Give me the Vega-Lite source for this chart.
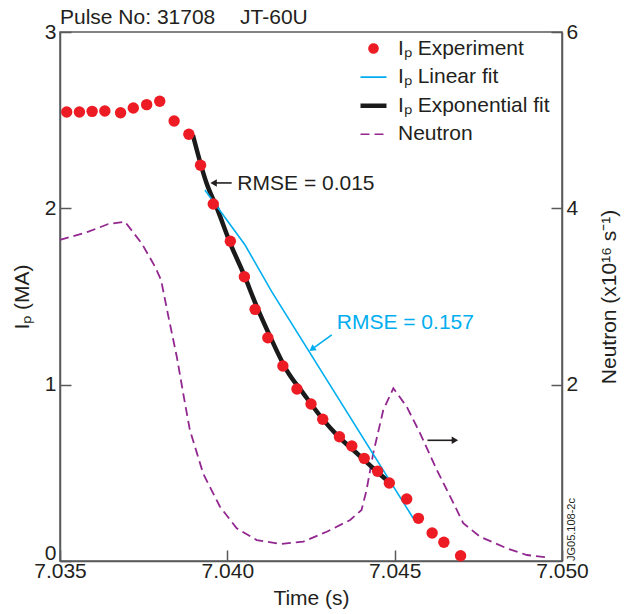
{
  "$schema": "https://vega.github.io/schema/vega-lite/v6.json",
  "width": 502,
  "height": 529,
  "autosize": {"type": "none"},
  "padding": {"left": 60, "top": 32, "right": 65, "bottom": 53},
  "background": "white",
  "config": {
    "font": "Liberation Sans",
    "view": {"stroke": "#58595b", "strokeWidth": 1.5},
    "axis": {
      "domainColor": "#58595b", "domainWidth": 1.5,
      "tickColor": "#58595b", "tickWidth": 1.5, "tickSize": -11,
      "labelFont": "Liberation Sans", "labelFontSize": 21, "labelColor": "#231f20",
      "titleFont": "Liberation Sans", "titleFontSize": 21, "titleFontWeight": "normal", "titleColor": "#231f20",
      "grid": false, "labelFlush": false, "labelOverlap": false, "labelPadding": 15
    },
    "legend": {
      "labelFont": "Liberation Sans", "labelFontSize": 21, "labelColor": "#231f20"
    }
  },
  "datasets": {
    "curves": [
      {"series": "Iₚ Experiment", "t": 7.0352, "v": 2.546},
      {"series": "Iₚ Experiment", "t": 7.03558, "v": 2.546},
      {"series": "Iₚ Experiment", "t": 7.03596, "v": 2.550},
      {"series": "Iₚ Experiment", "t": 7.03634, "v": 2.552},
      {"series": "Iₚ Experiment", "t": 7.03681, "v": 2.542},
      {"series": "Iₚ Experiment", "t": 7.03719, "v": 2.569},
      {"series": "Iₚ Experiment", "t": 7.03759, "v": 2.588},
      {"series": "Iₚ Experiment", "t": 7.03798, "v": 2.607},
      {"series": "Iₚ Experiment", "t": 7.03841, "v": 2.495},
      {"series": "Iₚ Experiment", "t": 7.03885, "v": 2.420},
      {"series": "Iₚ Experiment", "t": 7.0392, "v": 2.244},
      {"series": "Iₚ Experiment", "t": 7.03958, "v": 2.025},
      {"series": "Iₚ Experiment", "t": 7.04009, "v": 1.813},
      {"series": "Iₚ Experiment", "t": 7.04051, "v": 1.612},
      {"series": "Iₚ Experiment", "t": 7.04083, "v": 1.427},
      {"series": "Iₚ Experiment", "t": 7.04121, "v": 1.266},
      {"series": "Iₚ Experiment", "t": 7.04166, "v": 1.106},
      {"series": "Iₚ Experiment", "t": 7.04208, "v": 0.975},
      {"series": "Iₚ Experiment", "t": 7.0425, "v": 0.890},
      {"series": "Iₚ Experiment", "t": 7.04285, "v": 0.804},
      {"series": "Iₚ Experiment", "t": 7.04335, "v": 0.705},
      {"series": "Iₚ Experiment", "t": 7.04372, "v": 0.652},
      {"series": "Iₚ Experiment", "t": 7.04409, "v": 0.582},
      {"series": "Iₚ Experiment", "t": 7.04449, "v": 0.509},
      {"series": "Iₚ Experiment", "t": 7.04484, "v": 0.442},
      {"series": "Iₚ Experiment", "t": 7.04536, "v": 0.352},
      {"series": "Iₚ Experiment", "t": 7.04571, "v": 0.242},
      {"series": "Iₚ Experiment", "t": 7.04612, "v": 0.159},
      {"series": "Iₚ Experiment", "t": 7.04647, "v": 0.106},
      {"series": "Iₚ Experiment", "t": 7.04697, "v": 0.030},
      {"series": "Iₚ Linear fit", "t": 7.03933, "v": 2.104},
      {"series": "Iₚ Linear fit", "t": 7.04053, "v": 1.792},
      {"series": "Iₚ Linear fit", "t": 7.04133, "v": 1.526},
      {"series": "Iₚ Linear fit", "t": 7.04555, "v": 0.244},
      {"series": "Iₚ Exponential fit", "t": 7.03897, "v": 2.416},
      {"series": "Iₚ Exponential fit", "t": 7.03938, "v": 2.142},
      {"series": "Iₚ Exponential fit", "t": 7.03968, "v": 2.005},
      {"series": "Iₚ Exponential fit", "t": 7.04013, "v": 1.782},
      {"series": "Iₚ Exponential fit", "t": 7.04048, "v": 1.632},
      {"series": "Iₚ Exponential fit", "t": 7.04088, "v": 1.442},
      {"series": "Iₚ Exponential fit", "t": 7.04128, "v": 1.272},
      {"series": "Iₚ Exponential fit", "t": 7.04177, "v": 1.083},
      {"series": "Iₚ Exponential fit", "t": 7.04227, "v": 0.951},
      {"series": "Iₚ Exponential fit", "t": 7.04287, "v": 0.800},
      {"series": "Iₚ Exponential fit", "t": 7.04327, "v": 0.715},
      {"series": "Iₚ Exponential fit", "t": 7.04387, "v": 0.611},
      {"series": "Iₚ Exponential fit", "t": 7.04436, "v": 0.526},
      {"series": "Iₚ Exponential fit", "t": 7.04476, "v": 0.459}
    ],
    "neutron": [
      {"series": "Neutron", "t": 7.035, "v": 3.641},
      {"series": "Neutron", "t": 7.03585, "v": 3.735},
      {"series": "Neutron", "t": 7.03644, "v": 3.822},
      {"series": "Neutron", "t": 7.03694, "v": 3.848},
      {"series": "Neutron", "t": 7.03744, "v": 3.603},
      {"series": "Neutron", "t": 7.03784, "v": 3.338},
      {"series": "Neutron", "t": 7.03802, "v": 3.187},
      {"series": "Neutron", "t": 7.03824, "v": 2.771},
      {"series": "Neutron", "t": 7.03849, "v": 2.317},
      {"series": "Neutron", "t": 7.03868, "v": 1.905},
      {"series": "Neutron", "t": 7.03888, "v": 1.486},
      {"series": "Neutron", "t": 7.03928, "v": 0.990},
      {"series": "Neutron", "t": 7.03978, "v": 0.616},
      {"series": "Neutron", "t": 7.04028, "v": 0.371},
      {"series": "Neutron", "t": 7.04088, "v": 0.238},
      {"series": "Neutron", "t": 7.04157, "v": 0.193},
      {"series": "Neutron", "t": 7.04227, "v": 0.219},
      {"series": "Neutron", "t": 7.04297, "v": 0.332},
      {"series": "Neutron", "t": 7.04367, "v": 0.465},
      {"series": "Neutron", "t": 7.04401, "v": 0.578},
      {"series": "Neutron", "t": 7.04416, "v": 0.805},
      {"series": "Neutron", "t": 7.04436, "v": 1.222},
      {"series": "Neutron", "t": 7.04466, "v": 1.713},
      {"series": "Neutron", "t": 7.04496, "v": 1.959},
      {"series": "Neutron", "t": 7.04536, "v": 1.750},
      {"series": "Neutron", "t": 7.04576, "v": 1.448},
      {"series": "Neutron", "t": 7.04626, "v": 1.032},
      {"series": "Neutron", "t": 7.04676, "v": 0.654},
      {"series": "Neutron", "t": 7.04705, "v": 0.428},
      {"series": "Neutron", "t": 7.04755, "v": 0.276},
      {"series": "Neutron", "t": 7.04835, "v": 0.144},
      {"series": "Neutron", "t": 7.04895, "v": 0.068},
      {"series": "Neutron", "t": 7.04954, "v": 0.042}
    ],
    "notes": [
      {"label": "RMSE = 0.015", "t": 7.0403, "v": 2.138},
      {"label": "RMSE = 0.157", "t": 7.04327, "v": 1.348}
    ],
    "header": [
      {"label": "Pulse No: 31708", "t": 7.035, "v": 3},
      {"label": "JT-60U", "t": 7.04038, "v": 3}
    ],
    "stamp": [
      {"label": "JG05.108-2c", "t": 7.05, "v": 0}
    ],
    "arrows": [
      {"arrow": "exp", "t": 7.04013, "v": 2.144, "t2": 7.03959, "v2": 2.144},
      {"arrow": "lin", "t": 7.04312, "v": 1.282, "t2": 7.04253, "v2": 1.202},
      {"arrow": "neutron", "t": 7.04598, "v": 0.6845, "t2": 7.0468, "v2": 0.6845}
    ]
  },
  "layer": [
    {
      "data": {"name": "neutron"},
      "mark": {"type": "line", "strokeDash": [9, 5], "strokeWidth": 1.8},
      "encoding": {
        "x": {"field": "t", "type": "quantitative", "title": "Time (s)", "scale": {"domain": [7.035, 7.05], "nice": false, "zero": false},
              "axis": {"values": [7.035, 7.04, 7.045, 7.05], "format": ".3f", "labelPadding": 10, "titlePadding": 6}},
        "y": {"field": "v", "type": "quantitative", "scale": {"domain": [0, 6], "nice": false, "zero": false},
              "axis": {"orient": "right", "values": [2, 4, 6], "format": ".0f", "title": "Neutron (x10¹⁶ s⁻¹)", "titleAngle": 270, "titleBaseline": "top", "titlePadding": 21}},
        "color": {"field": "series", "type": "nominal",
          "scale": {"domain": ["Iₚ Experiment", "Iₚ Linear fit", "Iₚ Exponential fit", "Neutron"], "range": ["#ed1c24", "#00aeef", "#1a1a1a", "#92278f"]},
          "legend": {
            "orient": "none", "legendX": 303, "legendY": 6, "title": null,
            "symbolType": "stroke", "symbolSize": 676, "labelOffset": 14, "rowPadding": 6.6, "padding": 0,
            "encode": {"symbols": {"update": {
              "shape": {"signal": "datum.value === 'Iₚ Experiment' ? 'circle' : 'stroke'"},
              "size": {"signal": "datum.value === 'Iₚ Experiment' ? 80 : 676"},
              "fill": {"signal": "datum.value === 'Iₚ Experiment' ? '#ed1c24' : 'transparent'"},
              "stroke": {"signal": "datum.value === 'Iₚ Linear fit' ? '#00aeef' : datum.value === 'Iₚ Exponential fit' ? '#1a1a1a' : datum.value === 'Neutron' ? '#92278f' : 'transparent'"},
              "strokeWidth": {"signal": "datum.value === 'Iₚ Exponential fit' ? 4.5 : 1.6"},
              "strokeDash": {"signal": "datum.value === 'Neutron' ? [9, 5] : [1, 0]"},
              "opacity": {"value": 1}
            }}}
          }
        }
      }
    },
    {
      "layer": [
        {
          "data": {"name": "curves"},
          "transform": [{"filter": "datum.series === 'Iₚ Exponential fit'"}],
          "mark": {"type": "line", "strokeWidth": 4.5, "interpolate": "monotone"},
          "encoding": {
            "x": {"field": "t", "type": "quantitative", "title": "Time (s)"},
            "y": {"field": "v", "type": "quantitative", "title": "Iₚ (MA)", "scale": {"domain": [0, 3], "nice": false, "zero": false},
                  "axis": {"orient": "left", "values": [0, 1, 2, 3], "format": ".0f", "titlePadding": 12,
                           "labelOffset": {"condition": {"test": "datum.value === 0", "value": -8}, "value": 0}}},
            "color": {"field": "series", "type": "nominal"}
          }
        },
        {
          "data": {"name": "curves"},
          "transform": [{"filter": "datum.series === 'Iₚ Linear fit'"}],
          "mark": {"type": "line", "strokeWidth": 1.6},
          "encoding": {
            "x": {"field": "t", "type": "quantitative", "title": "Time (s)"},
            "y": {"field": "v", "type": "quantitative", "title": "Iₚ (MA)"},
            "color": {"field": "series", "type": "nominal"}
          }
        },
        {
          "data": {"name": "curves"},
          "transform": [{"filter": "datum.series === 'Iₚ Experiment'"}],
          "mark": {"type": "point", "filled": true, "size": 130, "opacity": 1},
          "encoding": {
            "x": {"field": "t", "type": "quantitative", "title": "Time (s)"},
            "y": {"field": "v", "type": "quantitative", "title": "Iₚ (MA)"},
            "color": {"field": "series", "type": "nominal"}
          }
        },
        {
          "data": {"name": "arrows"},
          "mark": {"type": "rule", "strokeWidth": 1.6},
          "encoding": {
            "x": {"field": "t", "type": "quantitative", "title": "Time (s)"},
            "y": {"field": "v", "type": "quantitative", "title": "Iₚ (MA)"},
            "x2": {"field": "t2"},
            "y2": {"field": "v2"},
            "color": {"condition": {"test": "datum.arrow === 'lin'", "value": "#00aeef"}, "value": "#231f20"}
          }
        },
        {
          "data": {"name": "arrows"},
          "mark": {"type": "point", "shape": "triangle-up", "filled": true, "size": 55, "opacity": 1},
          "encoding": {
            "x": {"field": "t2", "type": "quantitative", "title": "Time (s)"},
            "y": {"field": "v2", "type": "quantitative", "title": "Iₚ (MA)"},
            "angle": {"condition": [{"test": "datum.arrow === 'exp'", "value": 270}, {"test": "datum.arrow === 'lin'", "value": 234.5}], "value": 90},
            "color": {"condition": {"test": "datum.arrow === 'lin'", "value": "#00aeef"}, "value": "#231f20"}
          }
        },
        {
          "data": {"name": "notes"},
          "mark": {"type": "text", "align": "left", "baseline": "middle", "fontSize": 21, "font": "Liberation Sans"},
          "encoding": {
            "x": {"field": "t", "type": "quantitative", "title": "Time (s)"},
            "y": {"field": "v", "type": "quantitative", "title": "Iₚ (MA)"},
            "text": {"field": "label"},
            "color": {"condition": {"test": "datum.label === 'RMSE = 0.157'", "value": "#00aeef"}, "value": "#231f20"}
          }
        },
        {
          "data": {"name": "header"},
          "mark": {"type": "text", "align": "left", "baseline": "alphabetic", "dy": -8, "fontSize": 21, "font": "Liberation Sans", "color": "#231f20"},
          "encoding": {
            "x": {"field": "t", "type": "quantitative", "title": "Time (s)"},
            "y": {"field": "v", "type": "quantitative", "title": "Iₚ (MA)"},
            "text": {"field": "label"}
          }
        },
        {
          "data": {"name": "stamp"},
          "mark": {"type": "text", "align": "left", "baseline": "top", "angle": 270, "dy": 4, "fontSize": 11, "font": "Liberation Sans", "color": "#231f20"},
          "encoding": {
            "x": {"field": "t", "type": "quantitative", "title": "Time (s)"},
            "y": {"field": "v", "type": "quantitative", "title": "Iₚ (MA)"},
            "text": {"field": "label"}
          }
        }
      ]
    }
  ],
  "resolve": {"scale": {"y": "independent"}}
}
